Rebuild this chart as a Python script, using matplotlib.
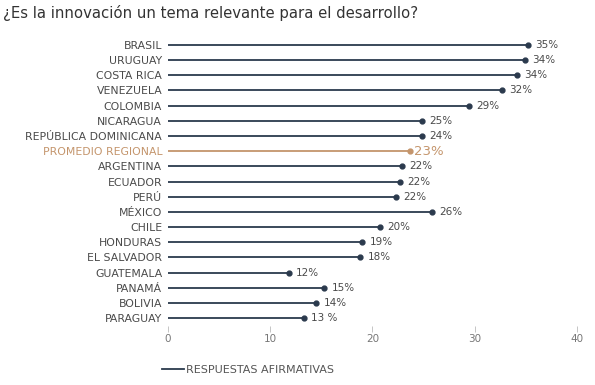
import matplotlib.pyplot as plt
from matplotlib.lines import Line2D

plt.rcParams['font.family'] = ['DejaVu Sans']

countries = ['BRASIL', 'URUGUAY', 'COSTA RICA', 'VENEZUELA', 'COLOMBIA', 'NICARAGUA',
             'REPÚBLICA DOMINICANA', 'PROMEDIO REGIONAL', 'ARGENTINA', 'ECUADOR', 'PERÚ',
             'MÉXICO', 'CHILE', 'HONDURAS', 'EL SALVADOR', 'GUATEMALA', 'PANAMÁ',
             'BOLIVIA', 'PARAGUAY']
values = [35.2, 34.9, 34.1, 32.7, 29.4, 24.8, 24.8, 23.7, 22.9, 22.7, 22.3,
          25.8, 20.7, 19.0, 18.8, 11.8, 15.3, 14.5, 13.3]
labels = ['35%', '34%', '34%', '32%', '29%', '25%', '24%', '23%', '22%', '22%', '22%',
          '26%', '20%', '19%', '18%', '12%', '15%', '14%', '13 %']

navy = '#2b3a4d'
tan = '#c4956c'
text_gray = '#4a4a4a'

fig = plt.figure(figsize=(5.95, 3.85), dpi=100)
ax = fig.add_axes([0.282, 0.154, 0.688, 0.749])

for i, (c, v, lab) in enumerate(zip(countries, values, labels)):
    is_avg = c == 'PROMEDIO REGIONAL'
    col = tan if is_avg else navy
    ax.plot([0, v], [i, i], color=col, lw=1.3, solid_capstyle='butt')
    ax.plot(v, i, 'o', color=col, ms=3.5)
    if is_avg:
        ax.text(v + 0.4, i, lab, va='center', ha='left', fontsize=9.5, color=tan)
    else:
        ax.text(v + 0.7, i, lab, va='center', ha='left', fontsize=7.5, color=text_gray)

ax.set_xlim(0, 40)
ax.set_ylim(len(countries) - 0.5, -0.5)
ax.set_yticks(range(len(countries)))
ax.set_yticklabels(countries, fontsize=7.8, color=text_gray)
for t, c in zip(ax.get_yticklabels(), countries):
    if c == 'PROMEDIO REGIONAL':
        t.set_color(tan)
ax.tick_params(axis='y', length=0, pad=4)
ax.set_xticks([0, 10, 20, 30, 40])
ax.tick_params(axis='x', length=4, width=0.6, color='#bbbbbb', labelsize=7.5,
               labelcolor='#777777', pad=2)
for s in ax.spines.values():
    s.set_visible(False)

fig.text(0.005, 0.965, '¿Es la innovación un tema relevante para el desarrollo?',
         fontsize=10.7, color='#333333', va='center', ha='left')

handle = Line2D([], [], color=navy, lw=1.3)
fig.legend([handle], ['RESPUESTAS AFIRMATIVAS'], loc='center left',
           bbox_to_anchor=(0.255, 0.04), frameon=False, fontsize=8,
           labelcolor='#555555', handlelength=2.0, handletextpad=0.2)

fig.savefig('out.png', dpi=100)
